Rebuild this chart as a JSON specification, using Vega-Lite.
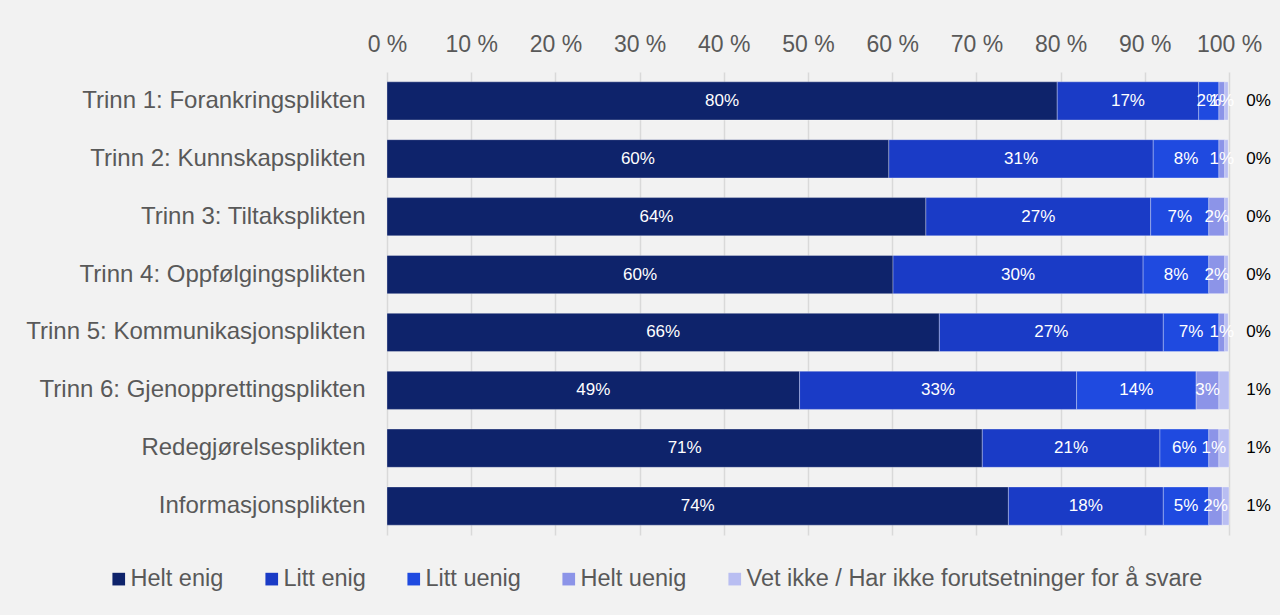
{
  "$schema": "https://vega.github.io/schema/vega-lite/v6.json",
  "width": 842,
  "height": 463,
  "autosize": {"type": "none"},
  "padding": {"left": 387, "top": 72, "right": 51, "bottom": 80},
  "background": "#f2f2f2",
  "config": {
    "view": {"stroke": null},
    "font": "Liberation Sans",
    "axis": {"labelFont": "Liberation Sans", "labelColor": "#595959", "title": null},
    "legend": {"labelFont": "Liberation Sans"}
  },
  "data": {
    "values": [
      {"item": "Trinn 1: Forankringsplikten", "cat": "Helt enig", "order": 0, "value": 0.796},
      {"item": "Trinn 1: Forankringsplikten", "cat": "Litt enig", "order": 1, "value": 0.168},
      {"item": "Trinn 1: Forankringsplikten", "cat": "Litt uenig", "order": 2, "value": 0.024},
      {"item": "Trinn 1: Forankringsplikten", "cat": "Helt uenig", "order": 3, "value": 0.007},
      {"item": "Trinn 1: Forankringsplikten", "cat": "Vet ikke / Har ikke forutsetninger for å svare", "order": 4, "value": 0.004},
      {"item": "Trinn 2: Kunnskapsplikten", "cat": "Helt enig", "order": 0, "value": 0.596},
      {"item": "Trinn 2: Kunnskapsplikten", "cat": "Litt enig", "order": 1, "value": 0.314},
      {"item": "Trinn 2: Kunnskapsplikten", "cat": "Litt uenig", "order": 2, "value": 0.078},
      {"item": "Trinn 2: Kunnskapsplikten", "cat": "Helt uenig", "order": 3, "value": 0.007},
      {"item": "Trinn 2: Kunnskapsplikten", "cat": "Vet ikke / Har ikke forutsetninger for å svare", "order": 4, "value": 0.004},
      {"item": "Trinn 3: Tiltaksplikten", "cat": "Helt enig", "order": 0, "value": 0.640},
      {"item": "Trinn 3: Tiltaksplikten", "cat": "Litt enig", "order": 1, "value": 0.267},
      {"item": "Trinn 3: Tiltaksplikten", "cat": "Litt uenig", "order": 2, "value": 0.069},
      {"item": "Trinn 3: Tiltaksplikten", "cat": "Helt uenig", "order": 3, "value": 0.019},
      {"item": "Trinn 3: Tiltaksplikten", "cat": "Vet ikke / Har ikke forutsetninger for å svare", "order": 4, "value": 0.004},
      {"item": "Trinn 4: Oppfølgingsplikten", "cat": "Helt enig", "order": 0, "value": 0.601},
      {"item": "Trinn 4: Oppfølgingsplikten", "cat": "Litt enig", "order": 1, "value": 0.297},
      {"item": "Trinn 4: Oppfølgingsplikten", "cat": "Litt uenig", "order": 2, "value": 0.078},
      {"item": "Trinn 4: Oppfølgingsplikten", "cat": "Helt uenig", "order": 3, "value": 0.019},
      {"item": "Trinn 4: Oppfølgingsplikten", "cat": "Vet ikke / Har ikke forutsetninger for å svare", "order": 4, "value": 0.004},
      {"item": "Trinn 5: Kommunikasjonsplikten", "cat": "Helt enig", "order": 0, "value": 0.656},
      {"item": "Trinn 5: Kommunikasjonsplikten", "cat": "Litt enig", "order": 1, "value": 0.266},
      {"item": "Trinn 5: Kommunikasjonsplikten", "cat": "Litt uenig", "order": 2, "value": 0.066},
      {"item": "Trinn 5: Kommunikasjonsplikten", "cat": "Helt uenig", "order": 3, "value": 0.007},
      {"item": "Trinn 5: Kommunikasjonsplikten", "cat": "Vet ikke / Har ikke forutsetninger for å svare", "order": 4, "value": 0.004},
      {"item": "Trinn 6: Gjenopprettingsplikten", "cat": "Helt enig", "order": 0, "value": 0.490},
      {"item": "Trinn 6: Gjenopprettingsplikten", "cat": "Litt enig", "order": 1, "value": 0.329},
      {"item": "Trinn 6: Gjenopprettingsplikten", "cat": "Litt uenig", "order": 2, "value": 0.142},
      {"item": "Trinn 6: Gjenopprettingsplikten", "cat": "Helt uenig", "order": 3, "value": 0.027},
      {"item": "Trinn 6: Gjenopprettingsplikten", "cat": "Vet ikke / Har ikke forutsetninger for å svare", "order": 4, "value": 0.012},
      {"item": "Redegjørelsesplikten", "cat": "Helt enig", "order": 0, "value": 0.707},
      {"item": "Redegjørelsesplikten", "cat": "Litt enig", "order": 1, "value": 0.211},
      {"item": "Redegjørelsesplikten", "cat": "Litt uenig", "order": 2, "value": 0.058},
      {"item": "Redegjørelsesplikten", "cat": "Helt uenig", "order": 3, "value": 0.012},
      {"item": "Redegjørelsesplikten", "cat": "Vet ikke / Har ikke forutsetninger for å svare", "order": 4, "value": 0.012},
      {"item": "Informasjonsplikten", "cat": "Helt enig", "order": 0, "value": 0.738},
      {"item": "Informasjonsplikten", "cat": "Litt enig", "order": 1, "value": 0.184},
      {"item": "Informasjonsplikten", "cat": "Litt uenig", "order": 2, "value": 0.054},
      {"item": "Informasjonsplikten", "cat": "Helt uenig", "order": 3, "value": 0.016},
      {"item": "Informasjonsplikten", "cat": "Vet ikke / Har ikke forutsetninger for å svare", "order": 4, "value": 0.008}
    ]
  },
  "layer": [
    {
      "mark": {"type": "bar", "stroke": "#ffffff", "strokeWidth": 1, "strokeOpacity": 0.3},
      "encoding": {
        "y": {
          "field": "item", "type": "nominal", "sort": null,
          "scale": {"paddingInner": 0.34, "paddingOuter": 0.17},
          "axis": {"domain": false, "ticks": false, "labelFontSize": 24, "labelPadding": 22, "labelLimit": 400}
        },
        "x": {
          "field": "value", "type": "quantitative", "stack": "zero",
          "scale": {"domain": [0, 1], "nice": false},
          "axis": {
            "orient": "top", "values": [0, 0.1, 0.2, 0.3, 0.4, 0.5, 0.6, 0.7, 0.8, 0.9, 1],
            "labelExpr": "format(datum.value * 100, 'd') + ' %'",
            "domain": false, "ticks": false, "grid": true, "gridColor": "#d9d9d9", "gridWidth": 1.5,
            "labelFontSize": 23, "labelPadding": 16, "labelFlush": false
          }
        },
        "color": {
          "field": "cat", "type": "nominal",
          "scale": {
            "domain": ["Helt enig", "Litt enig", "Litt uenig", "Helt uenig", "Vet ikke / Har ikke forutsetninger for å svare"],
            "range": ["#0e236b", "#1a3bc6", "#1f4ae0", "#8c94e8", "#b9bef2"]
          },
          "legend": {
            "orient": "none", "direction": "horizontal", "legendX": -280, "legendY": 495,
            "title": null, "symbolType": "square", "symbolSize": 160, "symbolStrokeWidth": 0,
            "labelFontSize": 23.5, "labelColor": "#595959", "labelOffset": 0, "columnPadding": 36,
            "labelLimit": 1000
          }
        },
        "order": {"field": "order", "type": "quantitative"}
      }
    },
    {
      "transform": [
        {"stack": "value", "groupby": ["item"], "sort": [{"field": "order", "order": "ascending"}], "as": ["v0", "v1"]},
        {"calculate": "(datum.v0 + datum.v1) / 2", "as": "mid"},
        {"filter": "datum.order < 4"}
      ],
      "mark": {"type": "text", "color": "#ffffff", "fontSize": 17, "font": "Liberation Sans"},
      "encoding": {
        "y": {"field": "item", "type": "nominal", "sort": null},
        "x": {"field": "mid", "type": "quantitative"},
        "text": {"field": "value", "type": "quantitative", "format": ".0%"}
      }
    },
    {
      "transform": [{"filter": "datum.order == 4"}],
      "mark": {"type": "text", "color": "#000000", "fontSize": 17, "font": "Liberation Sans"},
      "encoding": {
        "y": {"field": "item", "type": "nominal", "sort": null},
        "x": {"datum": 1.035},
        "text": {"field": "value", "type": "quantitative", "format": ".0%"}
      }
    }
  ]
}
